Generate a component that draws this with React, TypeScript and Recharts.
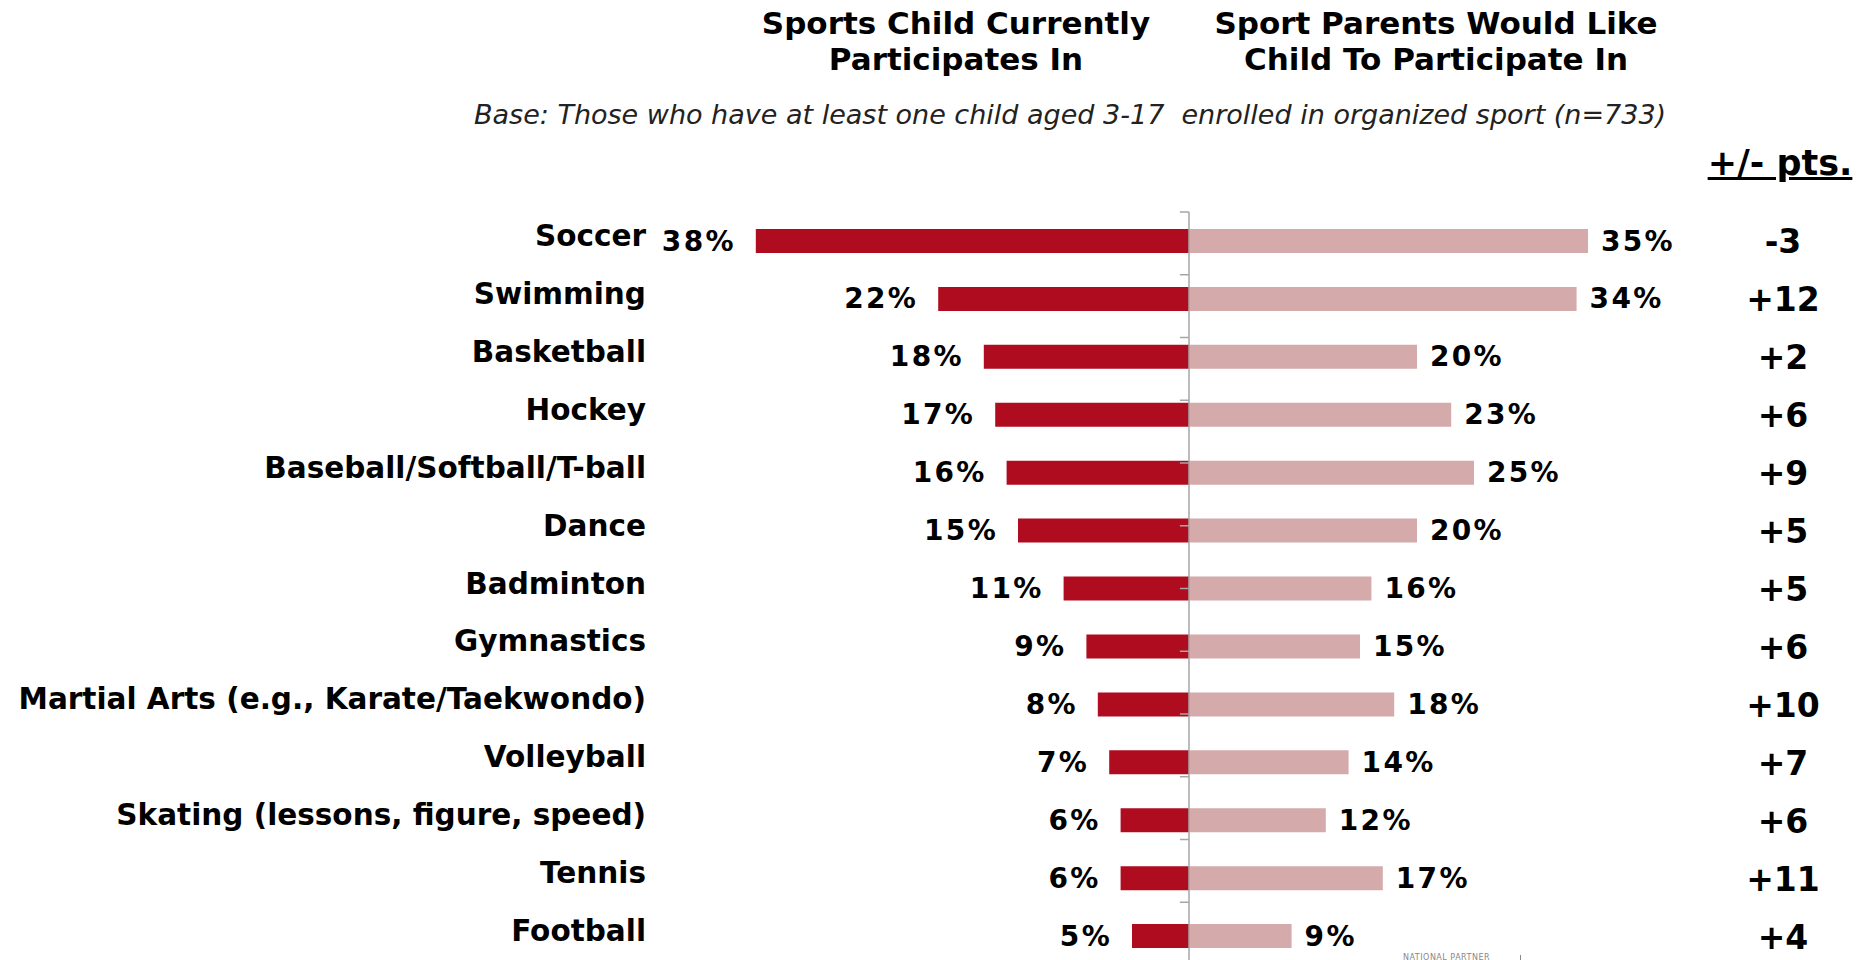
import React from 'react';
import { BarChart, Bar, XAxis, YAxis, ReferenceLine, LabelList } from 'recharts';

const categories = [
  'Soccer',
  'Swimming',
  'Basketball',
  'Hockey',
  'Baseball/Softball/T-ball',
  'Dance',
  'Badminton',
  'Gymnastics',
  'Martial Arts (e.g., Karate/Taekwondo)',
  'Volleyball',
  'Skating (lessons, figure, speed)',
  'Tennis',
  'Football',
];
const currentPct = [38, 22, 18, 17, 16, 15, 11, 9, 8, 7, 6, 6, 5];
const wouldLikePct = [35, 34, 20, 23, 25, 20, 16, 15, 18, 14, 12, 17, 9];
const diffPts = ['-3', '+12', '+2', '+6', '+9', '+5', '+5', '+6', '+10', '+7', '+6', '+11', '+4'];
// category boundaries for the little tick marks on the centre axis
const boundaries = [0, 1, 2, 3, 4, 5, 6, 7, 8, 9, 10, 11, 12, 13];

const rows = categories.map((name, i) => ({
  name,
  current: -currentPct[i],
  wouldLike: wouldLikePct[i],
}));

const FONT = '"DejaVu Sans", Verdana, sans-serif';
const DARK = '#AF0C1F';
const LIGHT = '#D4AAAB';
const AXIS = '#A6A6A6';

function CategoryTick({ x, y, payload }: any) {
  return (
    <text x={x} y={y} dy={-5} textAnchor="end" dominantBaseline="central"
      fontFamily={FONT} fontWeight="bold" fontSize={29.5} fill="#000">
      {payload.value}
    </text>
  );
}

function DiffTick({ x, y, index }: any) {
  return (
    <text x={x} y={y} dy={1} textAnchor="middle" dominantBaseline="central"
      fontFamily={FONT} fontWeight="bold" fontSize={33} fill="#000">
      {diffPts[index]}
    </text>
  );
}

const LeftValue = (props: any) => {
  const { x, y, width, height, value } = props;
  const left = Math.min(Number(x), Number(x) + Number(width));
  return (
    <text x={left - 20} y={Number(y) + Number(height) / 2} textAnchor="end" dominantBaseline="central"
      fontFamily={FONT} fontWeight="bold" fontSize={28} letterSpacing={2.3} fill="#000">
      {Math.abs(value)}%
    </text>
  );
};

const RightValue = (props: any) => {
  const { x, y, width, height, value } = props;
  const right = Math.max(Number(x), Number(x) + Number(width));
  return (
    <text x={right + 13} y={Number(y) + Number(height) / 2} textAnchor="start" dominantBaseline="central"
      fontFamily={FONT} fontWeight="bold" fontSize={28} letterSpacing={2.3} fill="#000">
      {value}%
    </text>
  );
};

const titleStyle: React.CSSProperties = {
  position: 'absolute',
  top: 5,
  width: 560,
  textAlign: 'center',
  fontFamily: FONT,
  fontWeight: 'bold',
  fontSize: 31,
  lineHeight: '36px',
  color: '#000',
};

export default function App() {
  return (
    <div style={{ position: 'absolute', left: 0, top: 0, width: 1860, height: 960, overflow: 'hidden', background: '#fff' }}>
      <div style={{ ...titleStyle, left: 956 - 280 }}>Sports Child Currently<br />Participates In</div>
      <div style={{ ...titleStyle, left: 1436 - 280 }}>Sport Parents Would Like<br />Child To Participate In</div>
      <div style={{
        position: 'absolute', left: 474, top: 99, fontFamily: FONT, fontStyle: 'italic',
        fontSize: 27, lineHeight: '32px', color: '#222', whiteSpace: 'pre',
      }}>
        Base: Those who have at least one child aged 3-17  enrolled in organized sport (n=733)
      </div>
      <div style={{
        position: 'absolute', left: 1690, width: 180, top: 143, textAlign: 'center', fontFamily: FONT,
        fontWeight: 'bold', fontSize: 35, lineHeight: '40px', textDecoration: 'underline', color: '#000',
      }}>
        +/- pts.
      </div>
      <BarChart
        width={1860}
        height={975}
        data={rows}
        layout="vertical"
        stackOffset="sign"
        margin={{ top: 212, right: 0, bottom: 10, left: 0 }}
      >
        <XAxis type="number" domain={[-45, 45]} hide />
        <YAxis
          type="category"
          dataKey="name"
          width={676}
          axisLine={false}
          tickLine={false}
          tickSize={0}
          tickMargin={30}
          tick={<CategoryTick />}
          interval={0}
        />
        <YAxis
          yAxisId="diff"
          orientation="right"
          type="category"
          dataKey="name"
          width={158}
          axisLine={false}
          tickLine={false}
          tickSize={0}
          tickMargin={81}
          tick={<DiffTick />}
          interval={0}
        />
        <YAxis yAxisId="n" type="number" domain={[0, 13]} reversed hide />
        <Bar dataKey="current" stackId="s" fill={DARK} barSize={24} isAnimationActive={false}>
          <LabelList dataKey="current" content={LeftValue} />
        </Bar>
        <Bar dataKey="wouldLike" stackId="s" fill={LIGHT} barSize={24} isAnimationActive={false}>
          <LabelList dataKey="wouldLike" content={RightValue} />
        </Bar>
        <ReferenceLine x={0} stroke={AXIS} strokeWidth={1.5} />
        {boundaries.map((k) => (
          <ReferenceLine
            key={k}
            yAxisId="n"
            segment={[{ x: -0.8, y: k }, { x: 0, y: k }]}
            stroke={AXIS}
            strokeWidth={1.5}
          />
        ))}
      </BarChart>
      <div style={{
        position: 'absolute', left: 1403, top: 953, fontFamily: FONT, fontSize: 8,
        letterSpacing: 0.5, color: '#888', whiteSpace: 'nowrap',
      }}>
        NATIONAL PARTNER
      </div>
      <div style={{ position: 'absolute', left: 1520, top: 955, width: 1, height: 5, background: '#888' }} />
    </div>
  );
}
